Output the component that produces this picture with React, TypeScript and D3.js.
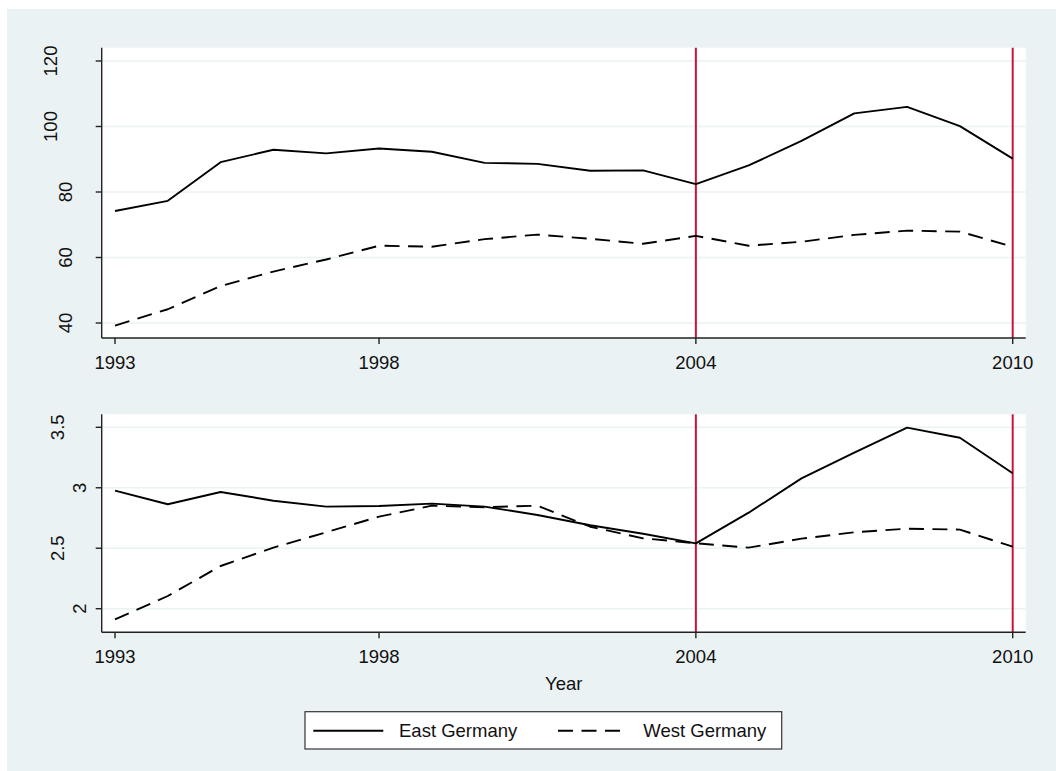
import React from "react";
import * as d3 from "d3";

const years = [1993,1994,1995,1996,1997,1998,1999,2000,2001,2002,2003,2004,2005,2006,2007,2008,2009,2010];
const eastTop = [74.2,77.3,89.1,92.9,91.8,93.3,92.3,88.9,88.6,86.5,86.6,82.4,88.1,95.6,104.0,106.0,100.1,90.2];
const westTop = [39.2,44.2,51.3,55.7,59.4,63.6,63.3,65.6,67.0,65.7,64.2,66.6,63.6,64.8,66.9,68.2,67.9,63.3];
const eastBot = [2.976,2.864,2.965,2.893,2.844,2.849,2.869,2.844,2.775,2.69,2.62,2.54,2.794,3.078,3.29,3.497,3.414,3.12];
const westBot = [1.912,2.105,2.353,2.505,2.632,2.761,2.852,2.839,2.852,2.678,2.582,2.541,2.505,2.579,2.632,2.662,2.654,2.513];
const xTicks = [1993,1998,2004,2010];
const topTicks = [40,60,80,100,120];
const botTicks = [2,2.5,3,3.5];
const vLines = [2004,2010];
const seriesNames = ["East Germany","West Germany"];

const BG = "#EAF2F3";
const RED = "#C8143C";
const FONT = "'Liberation Sans', Arial, sans-serif";
const FS = 18.5;
const DASH = "15 8.5";

const W = 1056, H = 771;
const plotL = 101.7, plotR = 1025.7;

const x = d3.scaleLinear().domain([1993, 2010]).range([115, 1012.7]);

const charW = (s: string) =>
  s.split("").reduce((a, c) => a + (c === "." ? 0.278 : 0.556), 0) * FS;

function Panel({ top, bottom, yScale, ticks, east, west }: any) {
  const line = (vals: number[]) =>
    d3.line<number>().x((_, i) => x(years[i])).y((v) => yScale(v))(vals) || "";
  return (
    <g>
      <rect x={plotL} y={top} width={plotR - plotL} height={bottom - top} fill="#fff" />
      {ticks.map((t: number) => (
        <line key={"g" + t} x1={plotL} x2={plotR} y1={yScale(t)} y2={yScale(t)} stroke={BG} strokeWidth={1.6} />
      ))}
      {vLines.map((v) => (
        <line key={"r" + v} x1={x(v)} x2={x(v)} y1={top} y2={bottom} stroke={RED} strokeWidth={2} />
      ))}
      <path d={line(east)} fill="none" stroke="#000" strokeWidth={1.9} strokeLinejoin="round" />
      <path d={line(west)} fill="none" stroke="#000" strokeWidth={1.9} strokeDasharray={DASH} strokeLinejoin="round" />
      <line x1={plotL} x2={plotL} y1={top} y2={bottom} stroke="#222" strokeWidth={1.4} />
      <line x1={plotL} x2={plotR} y1={bottom} y2={bottom} stroke="#222" strokeWidth={1.4} />
      {ticks.map((t: number) => {
        const lbl = String(t);
        const cx = 94 - 1.4 * charW(lbl);
        const cy = yScale(t);
        return (
          <g key={"t" + t}>
            <line x1={plotL - 6} x2={plotL} y1={cy} y2={cy} stroke="#222" strokeWidth={1.4} />
            <text
              transform={`translate(${cx},${cy}) rotate(-90)`}
              textAnchor="middle"
              dominantBaseline="central"
              fontFamily={FONT}
              fontSize={FS}
              fill="#111"
            >
              {lbl}
            </text>
          </g>
        );
      })}
      {xTicks.map((t) => (
        <g key={"x" + t}>
          <line x1={x(t)} x2={x(t)} y1={bottom} y2={bottom + 6} stroke="#222" strokeWidth={1.4} />
          <text x={x(t)} y={bottom + 30.5} textAnchor="middle" fontFamily={FONT} fontSize={FS} fill="#111">
            {t}
          </text>
        </g>
      ))}
    </g>
  );
}

export default function App() {
  const yTop = d3.scaleLinear().domain([40, 120]).range([323, 61]);
  const yBot = d3.scaleLinear().domain([2, 3.5]).range([608.7, 427.3]);
  return (
    <svg width={W} height={H} style={{ position: "absolute", left: 0, top: 0 }}>
      <rect x={7} y={9} width={W - 7} height={H - 9} fill={BG} />
      <Panel top={47.7} bottom={338} yScale={yTop} ticks={topTicks} east={eastTop} west={westTop} />
      <Panel top={414.3} bottom={632.3} yScale={yBot} ticks={botTicks} east={eastBot} west={westBot} />
      <text x={(plotL + plotR) / 2} y={690} textAnchor="middle" fontFamily={FONT} fontSize={FS} fill="#111">
        Year
      </text>
      <rect x={305} y={711.7} width={476.7} height={37.3} fill="#fff" stroke="#333" strokeWidth={1.2} />
      <line x1={313.3} x2={383.3} y1={730.7} y2={730.7} stroke="#000" strokeWidth={1.9} />
      <text x={399} y={737} fontFamily={FONT} fontSize={FS} fill="#111">{seriesNames[0]}</text>
      <line x1={558} x2={628} y1={730.7} y2={730.7} stroke="#000" strokeWidth={1.9} strokeDasharray={DASH} />
      <text x={643.3} y={737} fontFamily={FONT} fontSize={FS} fill="#111">{seriesNames[1]}</text>
    </svg>
  );
}
